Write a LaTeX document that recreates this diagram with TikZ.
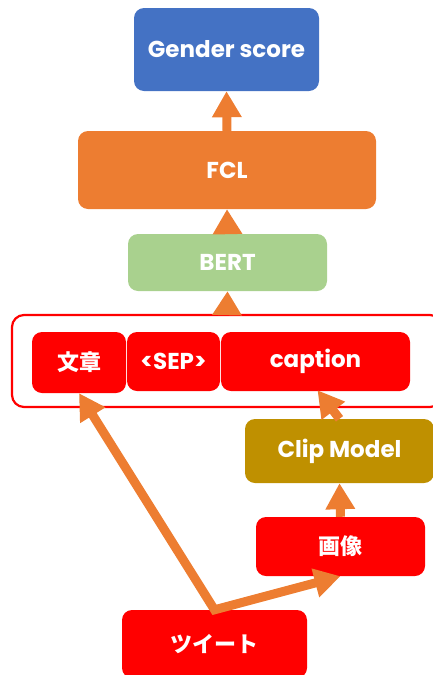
\documentclass[tikz,border=0pt]{standalone}
\usepackage{fontspec}
\setmainfont{Poppins}
\newfontfamily\cjk{Noto Sans CJK JP}
\usetikzlibrary{arrows.meta}
\definecolor{boxblue}{HTML}{4472C4}
\definecolor{boxorange}{HTML}{ED7D31}
\definecolor{boxgreen}{HTML}{A9D18E}
\definecolor{boxred}{HTML}{FF0000}
\definecolor{boxgold}{HTML}{BF9000}
\tikzset{
  blk/.style={rounded corners=10pt, inner sep=0pt, text=white,
    font=\fontsize{23}{26}\selectfont\bfseries},
  jblk/.style={blk, font=\cjk\fontsize{22}{26}\selectfont\bfseries},
  flow/.style={draw=boxorange, line width=9pt,
    -{Triangle[width=28pt,length=26pt]}},
  group/.style={draw=boxred, line width=2.2pt, rounded corners=12pt}
}
\begin{document}
\begin{tikzpicture}[x=1pt,y=-1pt]
\useasboundingbox (0,0) rectangle (432,675);

% model stack
\node[blk, fill=boxblue, minimum width=185pt, minimum height=83pt] (score) at (226.5,49.5) {Gender score};
\node[blk, fill=boxorange, minimum width=298pt, minimum height=78pt] (fcl) at (227,170) {FCL};
\node[blk, fill=boxgreen, minimum width=199pt, minimum height=57pt] (bert) at (227.5,262.5) {BERT};

% input sequence
\node[group, minimum width=430pt, minimum height=92pt] (input) at (227,361) {};
\node[jblk, fill=boxred, minimum width=94pt, minimum height=61pt] (text) at (79,362.5) {文章};
\node[blk, fill=boxred, minimum width=93pt, minimum height=59pt] (sep) at (173.5,361.5) {<SEP>};
\node[blk, fill=boxred, minimum width=189pt, minimum height=59pt] (caption) at (315.5,361.5) {caption};

% image branch
\node[blk, fill=boxgold, minimum width=189pt, minimum height=64pt] (clip) at (339.5,451) {Clip Model};
\node[jblk, fill=boxred, minimum width=169pt, minimum height=59pt] (image) at (340.5,546.5) {画像};
\node[jblk, fill=boxred, minimum width=185pt, minimum height=68pt] (tweet) at (214.5,644) {ツイート};

% connectors
\draw[flow] (fcl.north) -- (score.south);
\draw[flow, -{Triangle[width=28pt,length=25pt]}] (bert.north) -- (fcl.south);
\draw[flow, -{Triangle[width=28pt,length=24pt]}] (input.north) -- (bert.south);
\draw[flow] (image.north) -- (clip.south);
\draw[flow] (clip.north) -- ([xshift=2pt,yshift=1pt]caption.south);
\draw[flow, {Triangle[width=28pt,length=26pt]}-{Triangle[width=28pt,length=26pt]}, line join=miter]
  (text.south) -- (tweet.north) -- (image.south);
\end{tikzpicture}
\end{document}
